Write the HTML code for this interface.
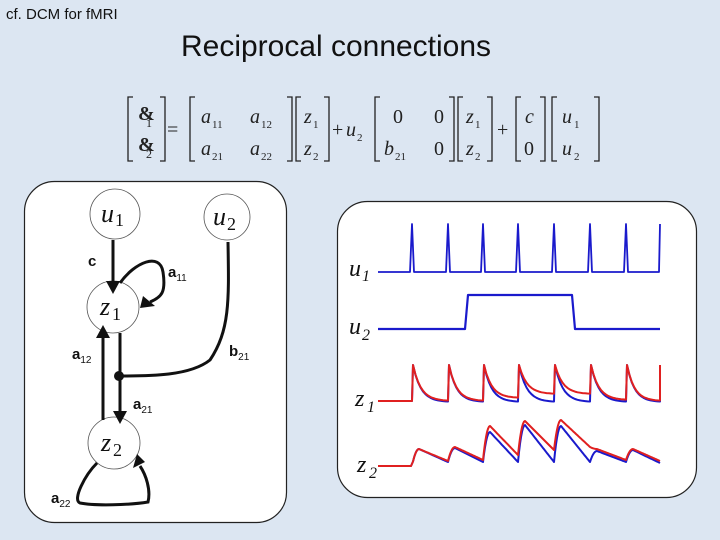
<!DOCTYPE html>
<html><head><meta charset="utf-8"><style>
html,body{margin:0;padding:0;background:#dce6f2;}
svg{display:block}
.s{font-family:"Liberation Sans",sans-serif}
.m{font-family:"Liberation Serif",serif;font-style:italic}
.r{font-family:"Liberation Serif",serif}
</style></head><body>
<svg id="g" width="720" height="540" viewBox="0 0 720 540" xmlns="http://www.w3.org/2000/svg">
<rect width="720" height="540" fill="#dce6f2"/>
<text x="6" y="19" class="s" font-size="15" fill="#111">cf. DCM for fMRI</text>
<text x="336" y="56" class="s" font-size="30" fill="#111" text-anchor="middle" textLength="310" lengthAdjust="spacingAndGlyphs">Reciprocal connections</text>
<rect x="122" y="92" width="482" height="74" fill="#dce6f2"/>
<g stroke="#222" stroke-width="1.3" fill="none">
<path d="M133,97 h-5 v64 h5 M160,97 h5 v64 h-5"/>
<path d="M195,97 h-5 v64 h5 M287,97 h5 v64 h-5"/>
<path d="M301,97 h-5 v64 h5 M324,97 h5 v64 h-5"/>
<path d="M380,97 h-5 v64 h5 M449,97 h5 v64 h-5"/>
<path d="M463,97 h-5 v64 h5 M487,97 h5 v64 h-5"/>
<path d="M521,97 h-5 v64 h5 M540,97 h5 v64 h-5"/>
<path d="M557,97 h-5 v64 h5 M594,97 h5 v64 h-5"/>
</g>
<g font-size="20" fill="#222">
<text x="138" y="120" class="r" font-weight="bold">&amp;</text><text x="146" y="127" class="r" font-size="12">1</text>
<text x="138" y="151" class="r" font-weight="bold">&amp;</text><text x="146" y="158" class="r" font-size="12">2</text>
<text x="167" y="136" class="r">=</text>
<text x="201" y="123" class="m">a</text><text x="212" y="128" class="r" font-size="11">11</text>
<text x="250" y="123" class="m">a</text><text x="261" y="128" class="r" font-size="11">12</text>
<text x="201" y="155" class="m">a</text><text x="212" y="160" class="r" font-size="11">21</text>
<text x="250" y="155" class="m">a</text><text x="261" y="160" class="r" font-size="11">22</text>
<text x="304" y="123" class="m">z</text><text x="313" y="128" class="r" font-size="11">1</text>
<text x="304" y="155" class="m">z</text><text x="313" y="160" class="r" font-size="11">2</text>
<text x="332" y="136" class="r">+</text><text x="346" y="136" class="m">u</text><text x="357" y="141" class="r" font-size="11">2</text>
<text x="393" y="123" class="r">0</text><text x="434" y="123" class="r">0</text>
<text x="384" y="155" class="m">b</text><text x="395" y="160" class="r" font-size="11">21</text><text x="434" y="155" class="r">0</text>
<text x="466" y="123" class="m">z</text><text x="475" y="128" class="r" font-size="11">1</text>
<text x="466" y="155" class="m">z</text><text x="475" y="160" class="r" font-size="11">2</text>
<text x="497" y="136" class="r">+</text>
<text x="525" y="123" class="m">c</text><text x="524" y="155" class="r">0</text>
<text x="562" y="123" class="m">u</text><text x="574" y="128" class="r" font-size="11">1</text>
<text x="562" y="155" class="m">u</text><text x="574" y="160" class="r" font-size="11">2</text>
</g>
<rect x="24.5" y="181.5" width="262" height="341" rx="30" fill="#fff" stroke="#222" stroke-width="1.2"/>
<g fill="#fff" stroke="#555" stroke-width="0.8">
<circle cx="115" cy="214" r="25"/><circle cx="227" cy="217" r="23"/>
<circle cx="113" cy="307" r="26"/><circle cx="114" cy="443" r="26"/>
</g>
<g class="r" font-style="italic" fill="#111" font-size="26">
<text x="101" y="222">u</text><text x="115" y="226" font-size="18" font-style="normal">1</text>
<text x="213" y="225">u</text><text x="227" y="230" font-size="18" font-style="normal">2</text>
<text x="100" y="315">z</text><text x="112" y="320" font-size="18" font-style="normal">1</text>
<text x="101" y="451">z</text><text x="113" y="456" font-size="18" font-style="normal">2</text>
</g>
<g stroke="#111" stroke-width="3" fill="none">
<path d="M113,240 V282"/>
<path d="M120,283 C135,262 160,252 163,272 C166,292 162,297 150,302"/>
<path d="M120,333 V412"/>
<path d="M103,420 V337"/>
<path d="M228,242 C229,300 230,330 210,360 C190,376 150,376 120,376"/>
<path d="M97,463 C85,475 72,500 80,503 C95,506 130,505 148,502 C151,490 146,475 140,466"/>
</g>
<g fill="#111">
<path d="M106,281 L120,281 L113,294 Z"/>
<path d="M143,296 L155,306 L140,308 Z"/>
<path d="M113,411 L127,411 L120,424 Z"/>
<path d="M96,338 L110,338 L103,325 Z"/>
<path d="M133,468 L145,462 L137,454 Z"/>
<circle cx="119" cy="376" r="5"/>
</g>
<g class="s" font-size="15" font-weight="bold" fill="#111">
<text x="88" y="266">c</text>
<text x="168" y="277">a<tspan font-size="10" font-weight="normal" dy="4">11</tspan></text>
<text x="72" y="359">a<tspan font-size="10" font-weight="normal" dy="4">12</tspan></text>
<text x="229" y="356">b<tspan font-size="10" font-weight="normal" dy="4">21</tspan></text>
<text x="133" y="409">a<tspan font-size="10" font-weight="normal" dy="4">21</tspan></text>
<text x="51" y="503">a<tspan font-size="10" font-weight="normal" dy="4">22</tspan></text>
</g>
<rect x="337.5" y="201.5" width="359" height="296" rx="30" fill="#fff" stroke="#222" stroke-width="1.2"/>
<g class="r" font-style="italic" fill="#111" font-size="24">
<text x="349" y="276">u</text><text x="362" y="281" font-size="16">1</text>
<text x="349" y="334">u</text><text x="362" y="340" font-size="16">2</text>
<text x="355" y="406">z</text><text x="367" y="412" font-size="16">1</text>
<text x="357" y="472">z</text><text x="369" y="478" font-size="16">2</text>
</g>
<g id="tr" fill="none" stroke-width="2" stroke-linejoin="round"></g>
</svg>
<script>
var xs=[412,448,483,518,554,590,626,660];
var ns="http://www.w3.org/2000/svg",g=document.getElementById('tr');
function P(d,c,w){var p=document.createElementNS(ns,'path');p.setAttribute('d',d);p.setAttribute('stroke',c);if(w)p.setAttribute('stroke-width',w);g.appendChild(p);}
var d='M378,272';xs.forEach(function(x,i){if(i<7){d+=' L'+(x-2)+',272 L'+x+',224 L'+(x+2)+',272';}else{d+=' L'+(x-1)+',272 L'+x+',224';}});
P(d,'#1a1acc',1.8);
P('M378,329 L465,329 L468,295 L572,295 L575,329 L660,329','#1a1acc',2.2);
function z1(col,lv){var d='M378,401';for(var i=0;i<7;i++){var x0=xs[i],x1=xs[i+1];var st=(i==0)?401:lv[i-1]+(365-lv[i-1])*Math.exp(-14/3.2);d+=' L'+x0+','+st.toFixed(1)+' L'+(x0+1)+',365';for(var t=1;t<=14;t++){var x=x0+1+(x1-x0-1)*t/14;var y=lv[i]+(365-lv[i])*Math.exp(-t/3.2);d+=' L'+x.toFixed(1)+','+y.toFixed(1);}}d+=' L660,365';P(d,col);}
z1('#1a1acc',[402,402,402,402,402,402,402]);
z1('#e02020',[401,401,398,394,394,400,401]);
function z2(col,pk,tv){var d='M378,466 L411,466';var prev=466;for(var i=0;i<7;i++){var x0=xs[i],x1=xs[i+1];var L=x1-x0;
 for(var s=1;s<=L;s+=1){var x=x0+s;var y;if(s<=7){var k=s/7;y=prev+(pk[i]-prev)*(1-Math.pow(1-k,2));}else{var k=(s-7)/(L-7);y=pk[i]+(tv[i]-pk[i])*k;}d+=' L'+x+','+y.toFixed(1);}
 prev=tv[i];}
 P(d,col);}
z2('#1a1acc',[449,448,432,425,426,451,450],[462,462,462,462,462,462,463]);
z2('#e02020',[449,447,426,421,420,449,449],[461,460,455,450,447,460,461]);
</script>
</body></html>
